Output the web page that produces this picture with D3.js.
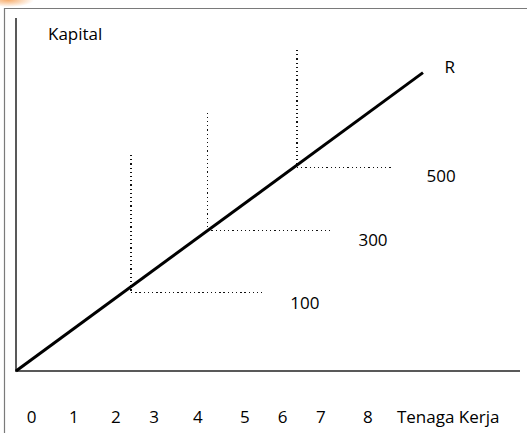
<!DOCTYPE html>
<html><head><meta charset="utf-8">
<script src="https://cdn.jsdelivr.net/npm/d3@7"></script>
<style>
html,body{margin:0;padding:0;background:#fff;}
svg{display:block;}
text{font-family:"Open Sans","Noto Sans",sans-serif;fill:#000;}
</style></head>
<body>
<svg id="chart" width="527" height="433"></svg>
<script>
// ---- data (units; 1 unit ≈ 42px) ----
const tickLabels = ["0","1","2","3","4","5","6","7","8"];
const tickPositions = [0.37,1.38,2.38,3.29,4.33,5.45,6.35,7.26,8.38];
const xTitle = "Tenaga Kerja";
const yTitle = "Kapital";
const lineName = "R";
const lineR = [[0,0],[9.69,7.10]];
const isoLabels = ["100","300","500"];
const isoCornerL = [2.74,4.55,6.69];
const isoCornerK = [1.86,3.35,4.85];
const isoTopK = [5.14,6.15,7.64];
const isoRightL = [5.86,7.52,8.98];
const isoLabelL = [6.88,8.5,10.12];
const isoLabelK = [1.47,2.98,4.5];

const FS = 17;
const svg = d3.select("#chart");
const x = d3.scaleLinear().domain([0,12]).range([16,520]);
const y = d3.scaleLinear().domain([0,8.4]).range([371,18]);

// faint orange smudge top-left
const defs = svg.append("defs");
const rg = defs.append("radialGradient").attr("id","sm");
rg.append("stop").attr("offset","0%").attr("stop-color","#f6a35a").attr("stop-opacity",0.9);
rg.append("stop").attr("offset","100%").attr("stop-color","#f6a35a").attr("stop-opacity",0);
svg.append("ellipse").attr("cx",8).attr("cy",0).attr("rx",26).attr("ry",7).attr("fill","url(#sm)");

// frame
svg.append("line").attr("x1",4).attr("x2",527).attr("y1",8.5).attr("y2",8.5).attr("stroke","#7a7a7a").attr("stroke-width",1.2);
svg.append("line").attr("x1",4.5).attr("x2",4.5).attr("y1",8).attr("y2",433).attr("stroke","#7a7a7a").attr("stroke-width",1.2);

// axes
svg.append("line").attr("x1",x(0)).attr("x2",x(0)).attr("y1",y(8.4)).attr("y2",y(0)).attr("stroke","#222").attr("stroke-width",1.5);
svg.append("line").attr("x1",x(0)-1).attr("x2",x(12)).attr("y1",y(0)).attr("y2",y(0)).attr("stroke","#222").attr("stroke-width",1.5);

// dotted isoquant guides
const dot = {stroke:"#111","stroke-width":1.2,"stroke-dasharray":"1.3 2.9","shape-rendering":"crispEdges"};
isoLabels.forEach((lab,i)=>{
  const v = svg.append("line").attr("x1",x(isoCornerL[i])).attr("x2",x(isoCornerL[i]))
    .attr("y1",y(isoTopK[i])).attr("y2",y(isoCornerK[i]));
  const h = svg.append("line").attr("x1",x(isoCornerL[i])).attr("x2",x(isoRightL[i]))
    .attr("y1",y(isoCornerK[i])).attr("y2",y(isoCornerK[i]));
  [v,h].forEach(s=>Object.entries(dot).forEach(([k,val])=>s.attr(k,val)));
  svg.append("text").attr("x",x(isoLabelL[i])).attr("y",y(isoLabelK[i]))
    .attr("text-anchor","middle").attr("font-size",FS).text(lab);
});

// expansion path R
svg.append("path").datum(lineR)
  .attr("d",d3.line().x(d=>x(d[0])).y(d=>y(d[1])))
  .attr("stroke","#000").attr("stroke-width",3).attr("fill","none");
svg.append("text").attr("x",x(10.33)).attr("y",y(7.1)).attr("text-anchor","middle")
  .attr("font-size",FS).text(lineName);

// titles
svg.append("text").attr("x",48).attr("y",40).attr("font-size",FS).text(yTitle);
tickLabels.forEach((t,i)=>{
  svg.append("text").attr("x",x(tickPositions[i])).attr("y",422.5)
    .attr("text-anchor","middle").attr("font-size",FS).text(t);
});
svg.append("text").attr("x",x(9.07)).attr("y",422.5).attr("font-size",FS).text(xTitle);
</script>
</body></html>
